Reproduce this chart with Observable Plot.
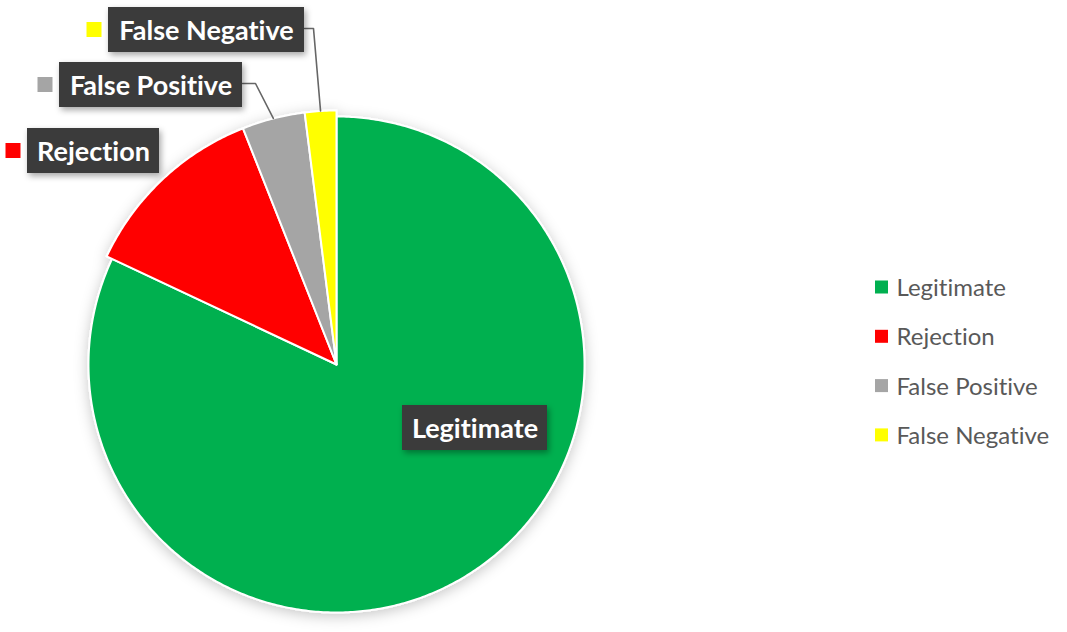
<!DOCTYPE html>
<html>
<head>
<meta charset="utf-8">
<script src="https://cdn.jsdelivr.net/npm/d3@7"></script>
<script src="https://cdn.jsdelivr.net/npm/@observablehq/plot@0.6"></script>
<style>
  html, body { margin: 0; padding: 0; background: #ffffff; }
  #chart { width: 1067px; height: 632px; }
  #chart svg text { font-variant-ligatures: none; font-feature-settings: "liga" 0, "clig" 0; }
</style>
</head>
<body>
<div id="chart"></div>
<script>
// ---- data ----
const categories = ["Legitimate", "Rejection", "False Positive", "False Negative"];
const values = [82, 12, 4, 2];
const colors = ["#00B050", "#FF0000", "#A5A5A5", "#FFFF00"];

// ---- layout (pixels) ----
const W = 1067, H = 632;
const center = {x: 336, y: 364};
const radius = [248, 254, 254, 254];
// label boxes: centre and box size
const labelBoxes = [
  {cx: 474.5, cy: 427.5, w: 145, h: 45, marker: false, leader: false},
  {cx: 93, cy: 150.5, w: 132, h: 45, marker: true, leader: false},
  {cx: 150.5, cy: 84.5, w: 183, h: 45, marker: true, leader: true, elbow: 13},
  {cx: 206, cy: 29.5, w: 196, h: 45, marker: true, leader: true, elbow: 9}
];
const legendX = 875, legendY0 = 287, legendStep = 49.3;

// ---- geometry from data ----
const pie = d3.pie().sort(null).value(d => d)(values);
const slicePts = [];
pie.forEach((p, i) => {
  const r = radius[i];
  const pt = a => ({name: categories[i], x: center.x + r * Math.sin(a), y: center.y - r * Math.cos(a)});
  slicePts.push({name: categories[i], x: center.x, y: center.y});
  const n = Math.max(8, Math.ceil((p.endAngle - p.startAngle) / 0.01));
  for (let k = 0; k <= n; k++) slicePts.push(pt(p.startAngle + (p.endAngle - p.startAngle) * k / n));
  slicePts.push({name: categories[i], x: center.x, y: center.y});
});

const boxes = labelBoxes.map((b, i) => ({
  name: categories[i],
  x1: b.cx - b.w / 2, x2: b.cx + b.w / 2,
  y1: b.cy - b.h / 2, y2: b.cy + b.h / 2,
  cx: b.cx, cy: b.cy
}));
const markers = labelBoxes.map((b, i) => ({b, i})).filter(d => d.b.marker).map(({b, i}) => {
  const mx = b.cx - b.w / 2 - 14;
  return {name: categories[i], x1: mx - 7.5, x2: mx + 7.5, y1: b.cy - 7.5, y2: b.cy + 7.5};
});
const leaders = [];
labelBoxes.forEach((b, i) => {
  if (!b.leader) return;
  const p = pie[i];
  const mid = (p.startAngle + p.endAngle) / 2;
  const r = radius[i];
  const xr = b.cx + b.w / 2, yr = b.cy - 1.5;
  leaders.push({id: categories[i], x: xr, y: yr});
  leaders.push({id: categories[i], x: xr + b.elbow, y: yr});
  leaders.push({id: categories[i], x: center.x + r * Math.sin(mid), y: center.y - r * Math.cos(mid)});
});
const legendRows = categories.map((c, i) => ({name: c, y: legendY0 + i * legendStep}));

const font = "Lato, 'Open Sans', sans-serif";

const chart = Plot.plot({
  width: W, height: H,
  margin: 0,
  x: {domain: [0, W], range: [0, W], axis: null},
  y: {domain: [0, H], range: [0, H], axis: null},
  color: {domain: categories, range: colors},
  style: {background: "#ffffff", fontFamily: font},
  marks: [
    Plot.line(slicePts, {x: "x", y: "y", z: "name", fill: "name", stroke: "#ffffff", strokeWidth: 2, strokeLinejoin: "round", curve: "linear"}),
    Plot.line(leaders, {x: "x", y: "y", z: "id", stroke: "#666666", strokeWidth: 1.6}),
    Plot.rect(boxes, {x1: "x1", x2: "x2", y1: "y1", y2: "y2", fill: "#3b3b3b"}),
    Plot.rect(markers, {x1: "x1", x2: "x2", y1: "y1", y2: "y2", fill: "name"}),
    Plot.text(boxes, {x: "cx", y: "cy", text: "name", fill: "#ffffff", fontSize: 27, fontWeight: "bold", dy: 1}),
    Plot.rect(legendRows, {x1: legendX, x2: legendX + 13, y1: d => d.y - 6.5, y2: d => d.y + 6.5, fill: "name"}),
    Plot.text(legendRows, {x: legendX + 21, y: "y", text: "name", textAnchor: "start", fill: "#595959", fontSize: 24, dy: 1})
  ]
});

// soft shadows (Excel style)
const svg = d3.select(chart);
const defs = svg.insert("defs", ":first-child");
const f1 = defs.append("filter").attr("id", "pieShadow").attr("x", "-20%").attr("y", "-20%").attr("width", "140%").attr("height", "140%");
f1.append("feDropShadow").attr("dx", 0).attr("dy", 3).attr("stdDeviation", 7).attr("flood-color", "#000").attr("flood-opacity", 0.22);
const f2 = defs.append("filter").attr("id", "boxShadow").attr("x", "-20%").attr("y", "-40%").attr("width", "140%").attr("height", "180%");
f2.append("feDropShadow").attr("dx", 2).attr("dy", 3).attr("stdDeviation", 3).attr("flood-color", "#000").attr("flood-opacity", 0.35);
const lineGroups = chart.querySelectorAll('g[aria-label="line"]');
if (lineGroups[0]) lineGroups[0].setAttribute("filter", "url(#pieShadow)");
const rectGroups = chart.querySelectorAll('g[aria-label="rect"]');
if (rectGroups[0]) rectGroups[0].setAttribute("filter", "url(#boxShadow)");

document.getElementById("chart").appendChild(chart);
</script>
</body>
</html>
